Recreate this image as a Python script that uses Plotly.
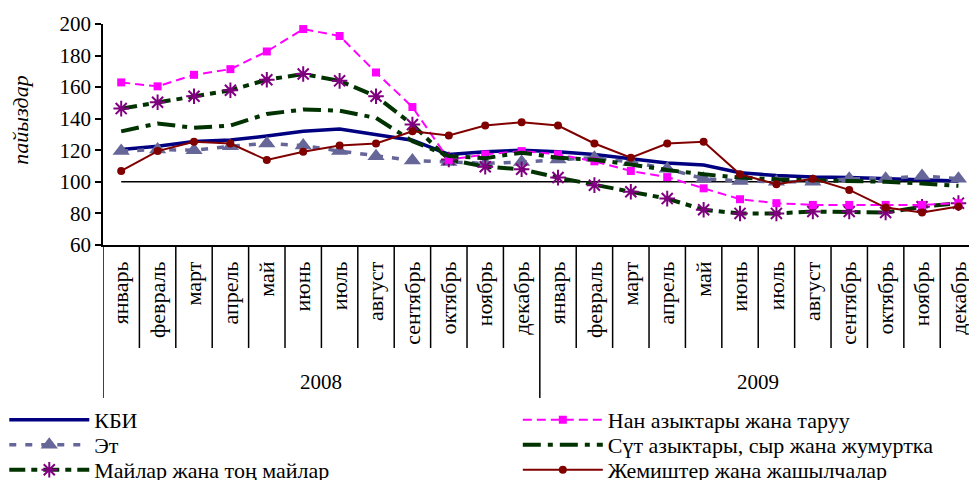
import plotly.graph_objects as go

months = ["январь", "февраль", "март", "апрель", "май", "июнь", "июль",
          "август", "сентябрь", "октябрь", "ноябрь", "декабрь"]
years = ["2008", "2009"]

kbi = [120.5, 122.6, 125.5, 126.5, 129.0, 132.0, 133.5, 130.0, 126.4, 117.4, 119.1, 120.1,
       119.1, 117.4, 114.5, 112.0, 110.7, 105.8, 104.0, 103.0, 102.7, 102.0, 101.0, 100.6]
nan = [163.0, 160.5, 167.8, 171.4, 182.6, 196.8, 192.4, 169.3, 147.4, 114.0, 117.4, 119.5,
       117.4, 113.0, 106.9, 103.0, 95.9, 89.0, 86.5, 85.4, 85.4, 85.4, 85.4, 86.5]
et = [119.5, 120.5, 120.0, 122.6, 124.3, 123.0, 119.5, 116.3, 113.6, 112.6, 111.7, 112.6,
      114.2, 115.3, 112.6, 108.3, 102.0, 100.6, 100.0, 100.0, 102.0, 102.0, 103.7, 102.0]
sut = [132.0, 137.0, 134.2, 135.7, 143.0, 145.8, 145.1, 140.5, 125.8, 116.3, 115.0, 118.5,
       115.3, 114.0, 111.0, 107.5, 104.8, 102.7, 101.6, 101.2, 100.6, 100.0, 99.0, 97.5]
maylar = [146.4, 150.4, 154.2, 158.0, 164.7, 168.3, 164.0, 154.2, 136.3, 114.2, 109.6, 108.0,
          102.7, 97.9, 93.7, 89.4, 82.3, 80.0, 80.0, 81.2, 81.2, 80.6, 84.2, 86.5]
jemish = [106.9, 119.5, 125.4, 124.3, 113.8, 119.1, 123.1, 124.3, 132.1, 129.4, 135.7, 137.8,
          135.7, 124.3, 115.3, 124.3, 125.4, 104.8, 98.5, 102.0, 94.9, 83.7, 80.6, 84.4]
base = [100] * 24

yticks = [60, 80, 100, 120, 140, 160, 180, 200]

n = len(months) * len(years)
xs = list(range(n))
labels = months * len(years)

FONT = "Liberation Serif, Times New Roman, serif"

fig = go.Figure()

fig.add_trace(go.Scatter(x=xs, y=base, mode="lines", line=dict(color="black", width=1.5),
                         showlegend=False, hoverinfo="skip"))

series = [
    ("КБИ", kbi, dict(color="#000080", width=3.5), None, "legend"),
    ("Эт", et, dict(color="#666699", width=3.5, dash="7px,9px"),
     dict(symbol="triangle-up", size=15, color="#666699"), "legend2"),
    ("Майлар жана тоң майлар", maylar, dict(color="#003300", width=4, dash="16px,6px,6px,6px"),
     dict(symbol="asterisk-open", size=13, color="#800080", line=dict(color="#800080", width=2)), "legend3"),
    ("Нан азыктары жана таруу", nan, dict(color="#FF00FF", width=2, dash="9px,5px"),
     dict(symbol="square", size=8, color="#FF00FF"), "legend4"),
    ("Сүт азыктары, сыр жана жумуртка", sut, dict(color="#003300", width=4, dash="18px,7px,5px,7px"),
     None, "legend5"),
    ("Жемиштер жана жашылчалар", jemish, dict(color="#800000", width=2),
     dict(symbol="circle", size=8, color="#800000"), "legend6"),
]
for name, vals, ln, mk, lg in series:
    fig.add_trace(go.Scatter(x=xs, y=vals, name=name, mode="lines+markers" if mk else "lines",
                             line=ln, marker=mk, legend=lg))

shapes = []
ncat = len(months)
for i in range(1, n):
    long = (i % ncat == 0)
    shapes.append(dict(type="line", xref="x", yref="paper", x0=i - 0.5, x1=i - 0.5,
                       y0=0, y1=-0.692 if long else -0.466, line=dict(color="black", width=1.5)))
for i in [0, n]:
    shapes.append(dict(type="line", xref="x", yref="paper", x0=i - 0.5, x1=i - 0.5,
                       y0=0, y1=-0.692, line=dict(color="black", width=1.5)))

annotations = []
for k, yr in enumerate(years):
    annotations.append(dict(x=k * ncat + (ncat - 1) / 2, y=-0.62, xref="x", yref="paper",
                            text=yr, showarrow=False, font=dict(family=FONT, size=21, color="black"),
                            xanchor="center", yanchor="middle"))
annotations.append(dict(x=-0.095, y=0.566, xref="paper", yref="paper", text="<i>пайыздар</i>",
                        textangle=-90, showarrow=False, font=dict(family=FONT, size=22, color="black"),
                        xanchor="center", yanchor="middle"))

legend_common = dict(orientation="v", xanchor="left", yanchor="middle",
                     font=dict(family=FONT, size=22, color="black"), bgcolor="rgba(0,0,0,0)",
                     itemwidth=80, tracegroupgap=0)
row_y = [-0.792, -0.905, -1.018]
col_x = [-0.114, 0.479]
legends = {}
names = ["legend", "legend2", "legend3", "legend4", "legend5", "legend6"]
for idx, nm in enumerate(names):
    legends[nm] = dict(legend_common, x=col_x[idx // 3], y=row_y[idx % 3])

fig.update_layout(
    width=969, height=480,
    margin=dict(l=103, r=0, t=24, b=235, autoexpand=False),
    paper_bgcolor="white", plot_bgcolor="white",
    font=dict(family=FONT, size=20, color="black"),
    xaxis=dict(range=[-0.5, 23.29], tickmode="array", tickvals=xs, ticktext=labels,
               tickangle=-90, showline=True, linecolor="black", linewidth=1.5, automargin=False,
               ticks="", showgrid=False, zeroline=False, ticklabelstandoff=6,
               ticklabeloverflow="allow", tickfont=dict(family=FONT, size=22)),
    yaxis=dict(range=[60, 200], tickvals=yticks, showline=True, linecolor="black", linewidth=1.5,
               ticks="outside", ticklen=6, tickwidth=1.5, tickcolor="black", showgrid=False,
               automargin=False, zeroline=False, tickfont=dict(family=FONT, size=21)),
    shapes=shapes, annotations=annotations,
    showlegend=True,
    **legends,
)

fig.write_html("out.html", config={"displayModeBar": False},
               post_script="document.body.style.margin='0';")
